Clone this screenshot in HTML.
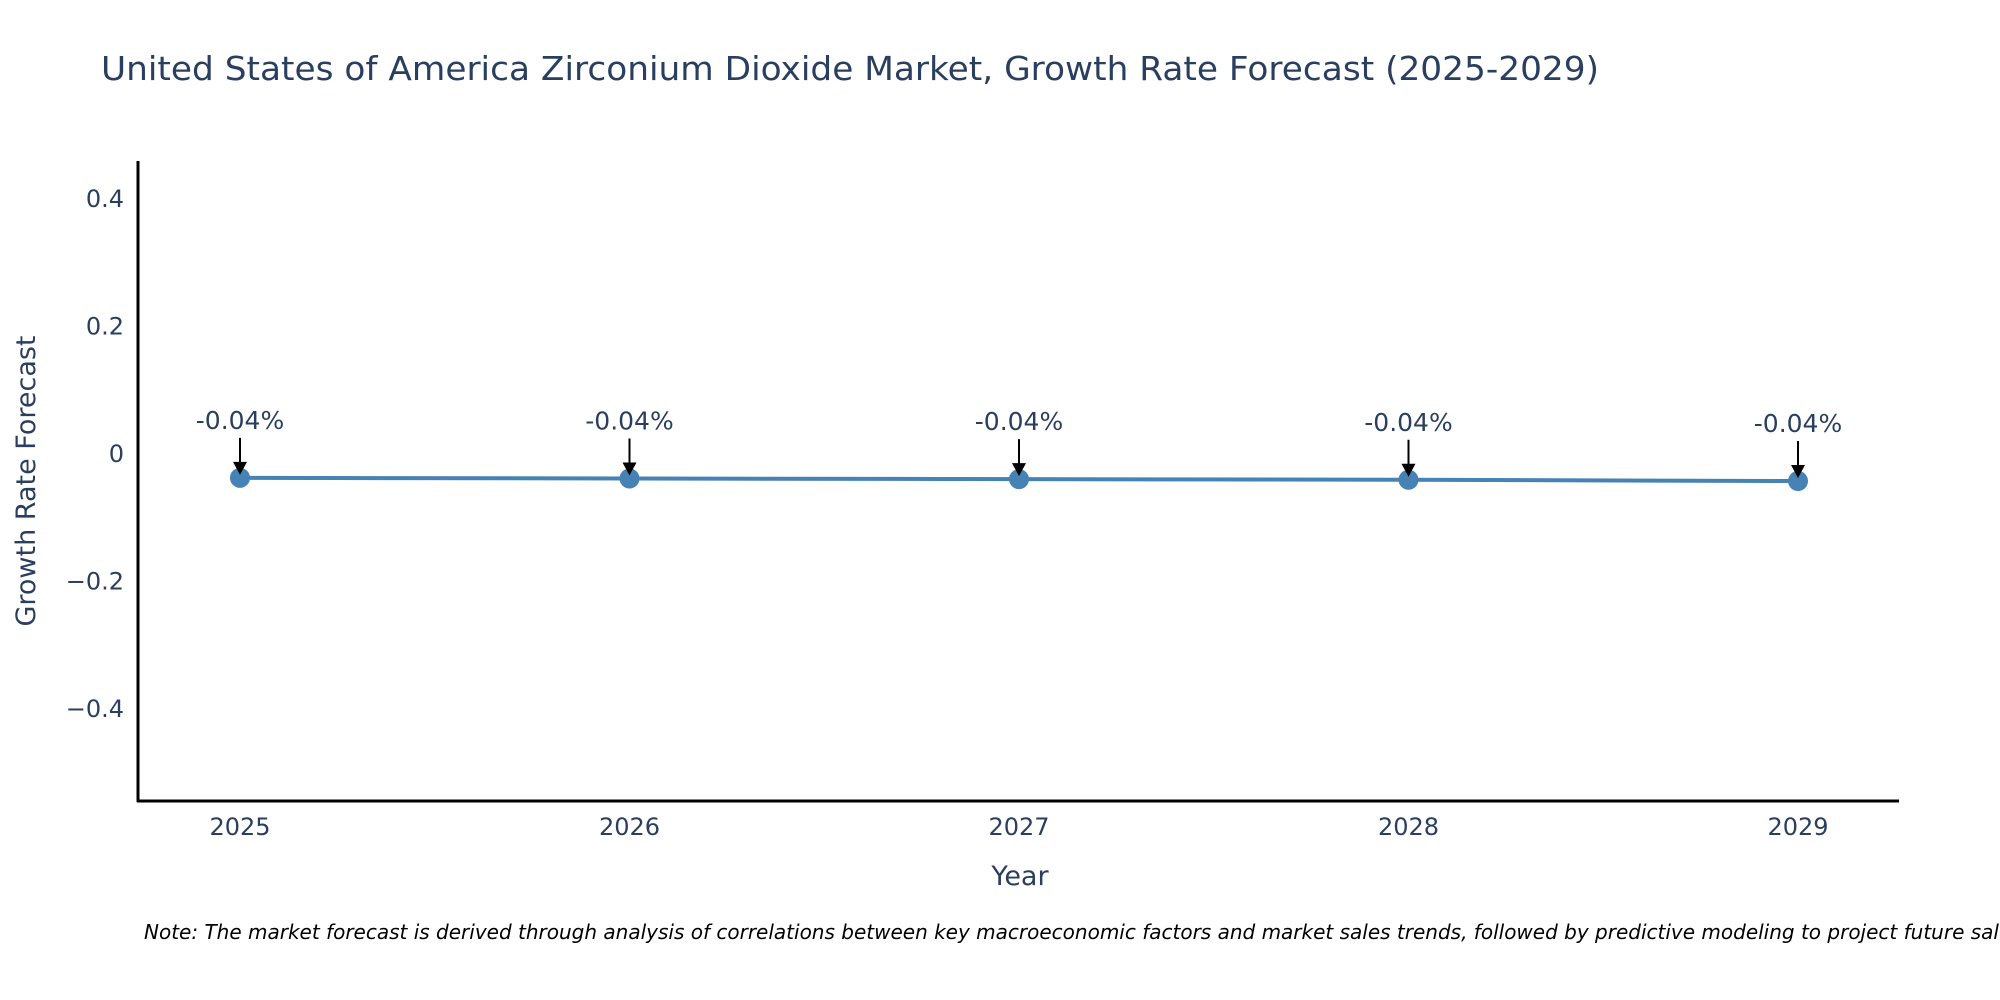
<!DOCTYPE html>
<html><head><meta charset="utf-8"><style>
body{margin:0;background:#fff;}
svg{display:block;font-family:"DejaVu Sans","Liberation Sans",sans-serif;}
</style></head><body>
<svg id="chart" width="2000" height="1000" viewBox="0 0 2000 1000">
<text x="101" y="80" font-size="33" fill="#2a3f5f" textLength="1498" lengthAdjust="spacingAndGlyphs">United States of America Zirconium Dioxide Market, Growth Rate Forecast (2025-2029)</text>
<g id="yticks"></g><g id="xticks"></g>
<line x1="138" y1="161" x2="138" y2="802" stroke="#000" stroke-width="3"/>
<line x1="137" y1="801" x2="1899" y2="801" stroke="#000" stroke-width="3"/>
<g id="series"></g>
<text x="1020" y="885" font-size="27" fill="#2a3f5f" text-anchor="middle">Year</text>
<text transform="translate(35,481) rotate(-90)" font-size="27" fill="#2a3f5f" text-anchor="middle">Growth Rate Forecast</text>
<text x="144" y="939" font-size="20" font-style="italic" fill="#000">Note: The market forecast is derived through analysis of correlations between key macroeconomic factors and market sales trends, followed by predictive modeling to project future sales.</text>
</svg>
<script>
const years=[2025,2026,2027,2028,2029];
const values=[-0.039,-0.040,-0.041,-0.042,-0.044];
const labels=["-0.04%","-0.04%","-0.04%","-0.04%","-0.04%"];
const yTickVals=[0.4,0.2,0,-0.2,-0.4];
const yTickText=["0.4","0.2","0","\u22120.2","\u22120.4"];
const NS="http://www.w3.org/2000/svg";
function xs(v){return 240+(v-2025)*389.5;}
function ys(v){return 453-v*637.5;}
function mk(tag,attrs,parent){const e=document.createElementNS(NS,tag);for(const k in attrs)e.setAttribute(k,attrs[k]);parent.appendChild(e);return e;}
const yt=document.getElementById('yticks'),xt=document.getElementById('xticks'),se=document.getElementById('series');
yTickVals.forEach((v,i)=>{const t=mk('text',{x:124,y:ys(v)+9,'font-size':24,fill:'#2a3f5f','text-anchor':'end'},yt);t.textContent=yTickText[i];

});
years.forEach(y=>{const t=mk('text',{x:xs(y),y:835,'font-size':24,fill:'#2a3f5f','text-anchor':'middle'},xt);t.textContent=String(y);

});
const pts=years.map((y,i)=>xs(y)+','+ys(values[i])).join(' ');
const pl=mk('polyline',{points:pts,fill:'none',stroke:'#4682b4','stroke-width':4},se);


years.forEach((y,i)=>{const cx=xs(y),cy=ys(values[i]);
const c=mk('circle',{cx:cx,cy:cy,r:10,fill:'#4682b4'},se);


const l=mk('line',{x1:cx,y1:cy-40,x2:cx,y2:cy-12,stroke:'#000','stroke-width':2},se);


const h=mk('polygon',{points:`${cx-7},${cy-16} ${cx+7},${cy-16} ${cx},${cy-3}`,fill:'#000'},se);


const t=mk('text',{x:cx,y:cy-49,'font-size':25,fill:'#2a3f5f','text-anchor':'middle'},se);t.textContent=labels[i];

});
</script>
</body></html>
